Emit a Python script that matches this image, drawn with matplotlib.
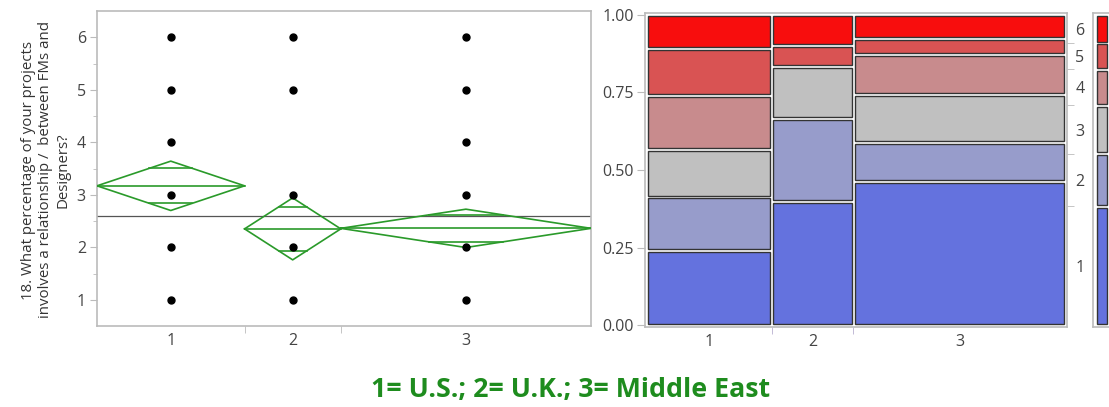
import numpy as np
import matplotlib
matplotlib.use("Agg")
import matplotlib.pyplot as plt
from matplotlib.patches import Rectangle

# ---- data -------------------------------------------------------------
groups = ["1", "2", "3"]
responses = [1, 2, 3, 4, 5, 6]
# counts of each response (1..6) per group
counts_g1 = [11, 8, 7, 8, 7, 5]
counts_g2 = [12, 8, 5, 0, 2, 3]
counts_g3 = [36, 10, 12, 10, 4, 6]
# means diamonds: group means and 95% CI half widths
group_means = [3.17, 2.35, 2.36]
ci_half = [0.47, 0.59, 0.365]
grand_mean = 2.60

ylabel = "18. What percentage of your projects\ninvolves a relationship /  between FMs and\nDesigners?"
caption = "1= U.S.; 2= U.K.; 3= Middle East"

cell_colors = ["#6472DE", "#979CCB", "#C0C0C0", "#C88B8D", "#D95353", "#F80D0D"]

# ---- figure -----------------------------------------------------------
W, H = 1109, 407
fig = plt.figure(figsize=(W / 100, H / 100), dpi=100)
plt.rcParams["font.family"] = ["Open Sans", "DejaVu Sans"]

def ax_rect(x0, y0, x1, y1):
    return [x0 / W, 1 - y1 / H, (x1 - x0) / W, (y1 - y0) / H]

frame_col = "#BBBBBB"
tick_col = "#444444"
green = "#2A9A2A"
lab_size = 11.5

counts = np.array([counts_g1, counts_g2, counts_g3], dtype=float)
n = counts.sum(axis=1)
edges = np.concatenate([[0], np.cumsum(n)])
centers = (edges[:-1] + edges[1:]) / 2

# ---- left: one-way plot with means diamonds ---------------------------
ax = fig.add_axes(ax_rect(97, 11, 591, 326))
ax.set_xlim(0, edges[-1])
ax.set_ylim(0.5, 6.5)
for sp in ax.spines.values():
    sp.set_color(frame_col)
    sp.set_linewidth(1.2)

for gi in range(3):
    for ri, r in enumerate(responses):
        if counts[gi, ri] > 0:
            ax.plot(centers[gi], r, "o", color="black", ms=5, zorder=4)

ax.axhline(grand_mean, color="#555555", lw=0.9, zorder=2)

for gi in range(3):
    x0, x1, xc = edges[gi], edges[gi + 1], centers[gi]
    m, h = group_means[gi], ci_half[gi]
    ax.plot([x0, xc, x1, xc, x0], [m, m + h, m, m - h, m], color=green, lw=1.2, zorder=3)
    ax.plot([x0, x1], [m, m], color=green, lw=1.2, zorder=3)
    off = h / np.sqrt(2)
    half_w = (x1 - x0) / 2 * (1 - off / h)
    for s in (1, -1):
        ax.plot([xc - half_w, xc + half_w], [m + s * off] * 2, color=green, lw=1.2, zorder=3)

ax.set_yticks(responses)
ax.set_yticks(np.arange(1.5, 6.0, 1.0), minor=True)
ax.set_xticks(centers)
ax.set_xticklabels(groups)
ax.set_xticks(edges[1:-1], minor=True)
ax.tick_params(axis="y", which="major", length=5, color=frame_col, labelsize=lab_size,
               labelcolor=tick_col, pad=3)
ax.tick_params(axis="y", which="minor", length=3, color=frame_col)
ax.tick_params(axis="x", which="major", length=0, labelsize=lab_size, labelcolor=tick_col, pad=5)
ax.tick_params(axis="x", which="minor", length=5, color=frame_col)
fig.text(46 / W, 1 - 170 / H, ylabel, rotation=90, ha="center", va="center",
         fontsize=10.8, color="#333333", linespacing=1.2)

# ---- right: mosaic plot -----------------------------------------------
mx0, my0, mx1, my1 = 645, 13.3, 1067, 326.7
axm = fig.add_axes(ax_rect(mx0, my0, mx1, my1))
pw, ph = mx1 - mx0, my1 - my0
gx, gy = 1.5 / pw, 1.5 / ph
axm.set_xlim(-gx, 1 + gx)
axm.set_ylim(-gy, 1 + gy)
for sp in axm.spines.values():
    sp.set_color(frame_col)
    sp.set_linewidth(1.2)

xfrac = edges / edges[-1]
for gi in range(3):
    props = np.concatenate([[0], np.cumsum(counts[gi]) / n[gi]])
    for ri in range(6):
        if counts[gi, ri] == 0:
            continue
        y0, y1 = props[ri], props[ri + 1]
        axm.add_patch(Rectangle((xfrac[gi] + gx, y0 + gy), xfrac[gi + 1] - xfrac[gi] - 2 * gx,
                                y1 - y0 - 2 * gy, facecolor=cell_colors[ri],
                                edgecolor="#333333", lw=1.0))

axm.set_yticks([0, 0.25, 0.5, 0.75, 1.0])
axm.set_yticklabels(["0.00", "0.25", "0.50", "0.75", "1.00"])
axm.set_xticks((xfrac[:-1] + xfrac[1:]) / 2)
axm.set_xticklabels(groups)
axm.set_xticks(xfrac[1:-1], minor=True)
axm.tick_params(axis="y", length=6, color=frame_col, labelsize=lab_size, labelcolor=tick_col, pad=2)
axm.tick_params(axis="x", which="major", length=0, labelsize=lab_size, labelcolor=tick_col, pad=5)
axm.tick_params(axis="x", which="minor", length=5, color="#B8B0D0")

# marginal response proportions on the right side
marg = counts.sum(axis=0)
mcum = np.concatenate([[0], np.cumsum(marg) / marg.sum()])
axr = axm.twinx()
axr.set_ylim(axm.get_ylim())
axr.set_yticks((mcum[:-1] + mcum[1:]) / 2)
axr.set_yticklabels([str(r) for r in responses])
axr.set_yticks(mcum[1:-1], minor=True)
axr.tick_params(axis="y", which="major", length=0, labelsize=lab_size, labelcolor=tick_col, pad=6)
axr.tick_params(axis="y", which="minor", length=5, color=frame_col)
for sp in axr.spines.values():
    sp.set_visible(False)

# ---- legend strip -----------------------------------------------------
lx0, lx1 = 1093, 1112
axl = fig.add_axes(ax_rect(lx0, my0, lx1, my1))
lw_ = lx1 - lx0
axl.set_xlim(0, 1)
axl.set_ylim(-gy, 1 + gy)
for sp in axl.spines.values():
    sp.set_color(frame_col)
    sp.set_linewidth(1.2)
axl.set_xticks([])
axl.set_yticks([])
for ri in range(6):
    y0, y1 = mcum[ri], mcum[ri + 1]
    axl.add_patch(Rectangle((4 / lw_, y0 + gy), 10 / lw_, y1 - y0 - 2 * gy,
                            facecolor=cell_colors[ri], edgecolor="#333333", lw=1.0))

# ---- caption ----------------------------------------------------------
fig.text(571 / W, 1 - 390 / H, caption, ha="center", va="center", fontsize=19.3,
         fontweight="bold", color="#1E8C1E")

fig.savefig("out.png", dpi=100, facecolor="white")
